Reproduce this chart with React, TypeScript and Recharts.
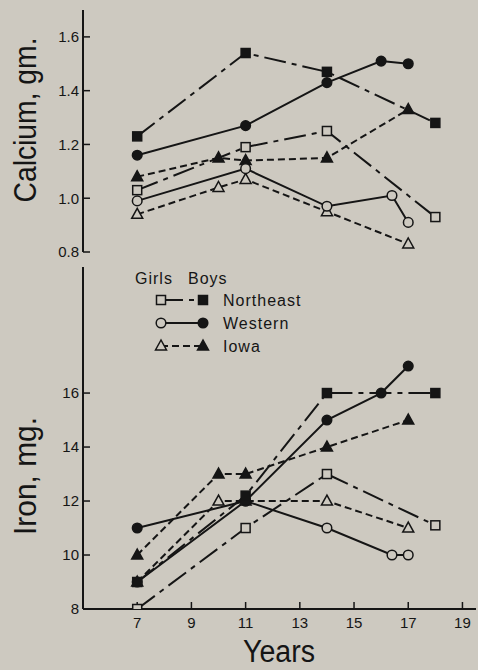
import React from 'react';
import { LineChart, Line, XAxis, YAxis, Legend } from 'recharts';

const BG = '#cdc9c0';
const INK = '#151515';
const FONT = '"Liberation Sans", Arial, sans-serif';

// ages at which each region was surveyed
const northeastYears = [7, 11, 14, 18];
const westernBoysYears = [7, 11, 14, 16, 17];
const westernGirlsYears = [7, 11, 14, 16.4, 17];
const iowaYears = [7, 10, 11, 14, 17];

const yearTicks = [7, 9, 11, 13, 15, 17, 19];
const calciumTicks = [0.8, 1.0, 1.2, 1.4, 1.6];
const ironTicks = [8, 10, 12, 14, 16];

// calcium, gm. per day
const calciumNortheastGirls = [1.03, 1.19, 1.25, 0.93];
const calciumNortheastBoys = [1.23, 1.54, 1.47, 1.28];
const calciumWesternGirls = [0.99, 1.11, 0.97, 1.01, 0.91];
const calciumWesternBoys = [1.16, 1.27, 1.43, 1.51, 1.5];
const calciumIowaGirls = [0.94, 1.04, 1.07, 0.95, 0.83];
const calciumIowaBoys = [1.08, 1.15, 1.14, 1.15, 1.33];

// iron, mg. per day
const ironNortheastGirls = [8, 11, 13, 11.1];
const ironNortheastBoys = [9, 12.2, 16, 16];
const ironWesternGirls = [9, 12, 11, 10, 10];
const ironWesternBoys = [11, 12, 15, 16, 17];
const ironIowaGirls = [9, 12, 12, 12, 11];
const ironIowaBoys = [10, 13, 13, 14, 15];

const regions = ['Northeast', 'Western', 'Iowa'] as const;
type Region = (typeof regions)[number];
type Shape = 'square' | 'circle' | 'triangle';

const regionStyle: Record<Region, { shape: Shape; dash?: string }> = {
  Northeast: { shape: 'square', dash: '22 6 5 6' },
  Western: { shape: 'circle' },
  Iowa: { shape: 'triangle', dash: '7 4' },
};

const toPoints = (years: number[], values: number[]) =>
  years.map((year, i) => ({ year, value: values[i] }));

interface Series {
  id: string;
  region: Region;
  boys: boolean;
  data: { year: number; value: number }[];
}

// drawn bottom to top: Northeast boys end up on top
const calciumSeries: Series[] = [
  { id: 'ca-i-g', region: 'Iowa', boys: false, data: toPoints(iowaYears, calciumIowaGirls) },
  { id: 'ca-i-b', region: 'Iowa', boys: true, data: toPoints(iowaYears, calciumIowaBoys) },
  { id: 'ca-w-g', region: 'Western', boys: false, data: toPoints(westernGirlsYears, calciumWesternGirls) },
  { id: 'ca-w-b', region: 'Western', boys: true, data: toPoints(westernBoysYears, calciumWesternBoys) },
  { id: 'ca-ne-g', region: 'Northeast', boys: false, data: toPoints(northeastYears, calciumNortheastGirls) },
  { id: 'ca-ne-b', region: 'Northeast', boys: true, data: toPoints(northeastYears, calciumNortheastBoys) },
];

const ironSeries: Series[] = [
  { id: 'fe-i-g', region: 'Iowa', boys: false, data: toPoints(iowaYears, ironIowaGirls) },
  { id: 'fe-i-b', region: 'Iowa', boys: true, data: toPoints(iowaYears, ironIowaBoys) },
  { id: 'fe-w-g', region: 'Western', boys: false, data: toPoints(westernGirlsYears, ironWesternGirls) },
  { id: 'fe-w-b', region: 'Western', boys: true, data: toPoints(westernBoysYears, ironWesternBoys) },
  { id: 'fe-ne-g', region: 'Northeast', boys: false, data: toPoints(northeastYears, ironNortheastGirls) },
  { id: 'fe-ne-b', region: 'Northeast', boys: true, data: toPoints(northeastYears, ironNortheastBoys) },
];

// open marker = girls, filled marker = boys
const Marker = ({ cx, cy, shape, filled }: { cx?: number; cy?: number; shape: Shape; filled: boolean }) => {
  if (cx == null || cy == null) return null;
  const fill = filled ? INK : BG;
  const common = { fill, stroke: INK, strokeWidth: 1.5 };
  if (shape === 'square') return <rect x={cx - 4.5} y={cy - 4.5} width={9} height={9} {...common} />;
  if (shape === 'circle') return <circle cx={cx} cy={cy} r={4.8} {...common} />;
  return <polygon points={`${cx},${cy - 6} ${cx - 5.5},${cy + 4} ${cx + 5.5},${cy + 4}`} {...common} />;
};

const AxisTitle = ({ titleX, titleY, text, length, vertical }: any) => (
  <text
    x={titleX}
    y={titleY}
    transform={vertical ? `rotate(-90 ${titleX} ${titleY})` : undefined}
    textAnchor="middle"
    fontFamily={FONT}
    fontSize={31}
    fill={INK}
    textLength={length}
    lengthAdjust="spacingAndGlyphs"
  >
    {text}
  </text>
);

const RegionKey = () => (
  <svg width={240} height={100} style={{ overflow: 'visible' }}>
    <g fontFamily={FONT} fontSize={16} fill={INK} letterSpacing={1}>
      <text x={5} y={18}>Girls</text>
      <text x={58} y={18}>Boys</text>
      {regions.map((r, i) => {
        const cy = 34 + i * 23;
        const st = regionStyle[r];
        return (
          <g key={r}>
            <line x1={31} x2={73} y1={cy} y2={cy} stroke={INK} strokeWidth={2} strokeDasharray={st.dash} />
            <Marker cx={31} cy={cy} shape={st.shape} filled={false} />
            <Marker cx={73} cy={cy} shape={st.shape} filled />
            <text x={93} y={cy + 6}>{r}</text>
          </g>
        );
      })}
    </g>
  </svg>
);

const renderLines = (series: Series[]) =>
  series.map((s) => {
    const st = regionStyle[s.region];
    return (
      <Line
        key={s.id}
        data={s.data}
        dataKey="value"
        type="linear"
        stroke={INK}
        strokeWidth={2}
        strokeDasharray={st.dash}
        isAnimationActive={false}
        dot={(p: any) => (
          <Marker key={`${s.id}-${p.index}`} cx={p.cx} cy={p.cy} shape={st.shape} filled={s.boys} />
        )}
        activeDot={false}
      />
    );
  });

const axisLine = { stroke: INK, strokeWidth: 2 };
const tickLine = { stroke: INK, strokeWidth: 1.5 };
const tickText = { fill: INK, fontSize: 15, fontFamily: FONT };

export default function App() {
  return (
    <div style={{ position: 'absolute', left: 0, top: 0, width: 478, height: 670, background: BG }}>
      <div style={{ position: 'absolute', left: 0, top: 0 }}>
        <LineChart width={478} height={262} margin={{ top: 10, right: 2, bottom: 10, left: 0 }}>
          <XAxis
            dataKey="year"
            type="number"
            domain={[5, 19.5]}
            ticks={yearTicks}
            allowDataOverflow
            height={0}
            tick={false}
            tickSize={-7}
            axisLine={axisLine}
            tickLine={tickLine}
          />
          <YAxis
            type="number"
            domain={[0.8, 1.7]}
            ticks={calciumTicks}
            allowDataOverflow
            width={83}
            tickSize={-7}
            tickMargin={11}
            tickFormatter={(v: number) => v.toFixed(1)}
            tick={tickText}
            axisLine={axisLine}
            tickLine={tickLine}
            label={<AxisTitle titleX={36} titleY={120} text="Calcium, gm." length={165} vertical />}
          />
          {renderLines(calciumSeries)}
        </LineChart>
      </div>
      <div style={{ position: 'absolute', left: 0, top: 262 }}>
        <LineChart width={478} height={408} margin={{ top: 5, right: 2, bottom: 0, left: 0 }}>
          <XAxis
            dataKey="year"
            type="number"
            domain={[5, 19.5]}
            ticks={yearTicks}
            allowDataOverflow
            height={61}
            tickSize={-7}
            tickMargin={15}
            tick={tickText}
            axisLine={axisLine}
            tickLine={tickLine}
            label={<AxisTitle titleX={279} titleY={400} text="Years" length={72} />}
          />
          <YAxis
            type="number"
            domain={[8, 20.67]}
            ticks={ironTicks}
            allowDataOverflow
            width={83}
            tickSize={-7}
            tickMargin={11}
            tick={tickText}
            axisLine={axisLine}
            tickLine={tickLine}
            label={<AxisTitle titleX={36} titleY={214} text="Iron, mg." length={118} vertical />}
          />
          <Legend
            layout="vertical"
            align="center"
            verticalAlign="middle"
            wrapperStyle={{ left: 130, top: 4, width: 240, height: 100 }}
            content={() => <RegionKey />}
          />
          {renderLines(ironSeries)}
        </LineChart>
      </div>
    </div>
  );
}
